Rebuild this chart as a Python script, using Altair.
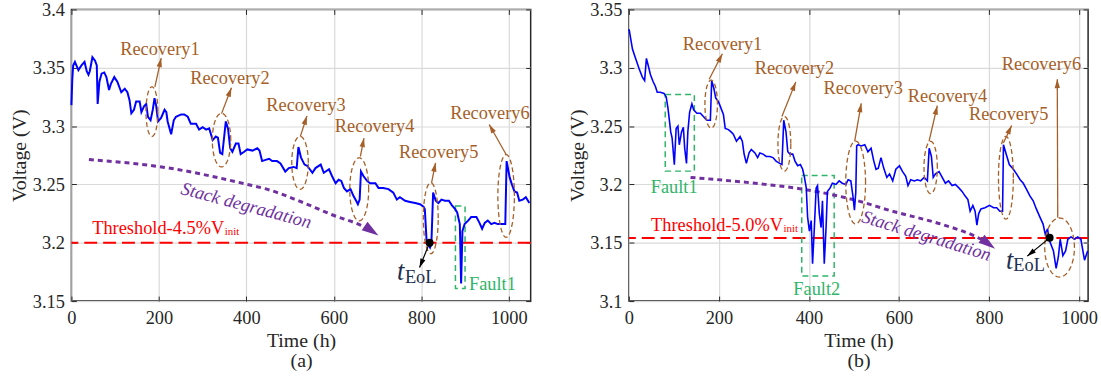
import math
import numpy as np
import pandas as pd
import altair as alt

FONT = "Liberation Serif, Times New Roman, serif"
INK = "#262626"
BLUE = "#0000FF"
RED = "#FF0000"
PURPLE = "#7030A0"
BROWN = "#A65F28"
GREEN = "#2FB56A"
NAVY = "#1F2F4F"
W, H = 463, 294

# ---------------- panel (a): stack voltage trace ----------------
A_T = [0, 2, 4, 8, 16, 23, 30, 35, 39, 42, 48, 54, 58, 60, 64, 69, 75, 80, 86, 90, 98, 105, 114, 122, 128,
       133, 137, 143, 148, 156, 160, 166, 171, 175, 181, 186, 190, 194, 198, 205, 213, 217, 220, 228, 234,
       239, 251, 258, 266, 273, 285, 292, 300, 308, 315, 323, 330, 335, 340, 345, 349, 353, 358, 363, 368,
       376, 382, 387, 395, 402, 414, 425, 430, 436, 444, 452, 459, 470, 478, 489, 497, 508, 515, 519, 525,
       533, 539, 551, 558, 570, 577, 589, 596, 604, 611, 617, 623, 630, 638, 645, 651, 655, 659, 662, 668,
       676, 683, 695, 702, 713, 725, 736, 744, 751, 763, 774, 786, 797, 805, 808, 812, 820, 823, 827, 833,
       839, 846, 854, 863, 870, 877, 882, 888, 891, 894, 899, 907, 914, 926, 933, 939, 945, 952, 960, 967,
       975, 984, 992, 995, 1002, 1007, 1013, 1019, 1024, 1032, 1039, 1047]
A_V = [3.318, 3.340, 3.352, 3.355, 3.348, 3.352, 3.355, 3.347, 3.344, 3.347, 3.359, 3.356, 3.352, 3.319,
       3.338, 3.345, 3.346, 3.342, 3.331, 3.336, 3.342, 3.338, 3.329, 3.332, 3.329, 3.322, 3.311, 3.314,
       3.321, 3.321, 3.312, 3.317, 3.319, 3.308, 3.305, 3.314, 3.324, 3.317, 3.304, 3.307, 3.314, 3.312,
       3.304, 3.293, 3.305, 3.308, 3.310, 3.310, 3.308, 3.302, 3.302, 3.297, 3.299, 3.297, 3.298, 3.288,
       3.291, 3.290, 3.277, 3.276, 3.290, 3.304, 3.298, 3.281, 3.278, 3.285, 3.285, 3.276, 3.278, 3.280,
       3.279, 3.281, 3.279, 3.270, 3.271, 3.272, 3.270, 3.270, 3.268, 3.261, 3.264, 3.265, 3.264, 3.282,
       3.273, 3.267, 3.266, 3.260, 3.264, 3.267, 3.260, 3.263, 3.257, 3.251, 3.254, 3.253, 3.247, 3.244,
       3.246, 3.240, 3.236, 3.233, 3.237, 3.261, 3.257, 3.253, 3.251, 3.251, 3.247, 3.247, 3.246, 3.243,
       3.237, 3.239, 3.236, 3.235, 3.234, 3.233, 3.231, 3.229, 3.202, 3.196, 3.199, 3.243, 3.236, 3.234,
       3.237, 3.236, 3.236, 3.232, 3.229, 3.226, 3.216, 3.165, 3.210, 3.216, 3.219, 3.222, 3.222, 3.217,
       3.212, 3.217, 3.219, 3.216, 3.217, 3.216, 3.216, 3.216, 3.270, 3.256, 3.250, 3.244, 3.243, 3.236,
       3.237, 3.239, 3.234]

# ---------------- panel (b): stack voltage trace ----------------
B_T = [0, 1, 8, 15, 23, 30, 35, 39, 43, 48, 54, 59, 63, 70, 78, 83, 87, 93, 96, 101, 105, 109, 112, 117,
       121, 124, 128, 131, 135, 140, 144, 151, 159, 166, 173, 181, 184, 189, 193, 199, 205, 210, 214, 221,
       227, 232, 239, 247, 252, 256, 261, 267, 272, 280, 286, 291, 298, 305, 313, 320, 327, 335, 340, 344,
       349, 353, 358, 364, 369, 375, 381, 386, 390, 394, 397, 401, 405, 408, 412, 416, 419, 423, 427, 430,
       434, 438, 441, 447, 452, 460, 467, 474, 482, 487, 493, 498, 501, 504, 506, 509, 516, 524, 531, 538,
       544, 549, 554, 560, 566, 573, 579, 586, 593, 601, 608, 615, 620, 626, 634, 641, 648, 656, 663, 667,
       672, 676, 681, 689, 696, 703, 710, 718, 725, 733, 740, 747, 753, 758, 764, 769, 773, 777, 782, 791,
       801, 810, 817, 824, 830, 832, 838, 845, 854, 861, 869, 876, 883, 891, 898, 905, 913, 920, 925, 930,
       933, 938, 943, 949, 954, 958, 964, 970, 975, 982, 990, 997, 1004, 1012, 1019]
B_V = [3.333, 3.332, 3.316, 3.308, 3.299, 3.292, 3.289, 3.308, 3.302, 3.294, 3.288, 3.284, 3.279, 3.279,
       3.278, 3.275, 3.265, 3.245, 3.240, 3.217, 3.248, 3.250, 3.234, 3.245, 3.249, 3.231, 3.218, 3.245,
       3.262, 3.269, 3.264, 3.261, 3.261, 3.258, 3.255, 3.255, 3.289, 3.282, 3.274, 3.271, 3.265, 3.260,
       3.248, 3.247, 3.245, 3.243, 3.237, 3.241, 3.237, 3.226, 3.218, 3.227, 3.230, 3.227, 3.223, 3.227,
       3.226, 3.224, 3.224, 3.223, 3.220, 3.218, 3.217, 3.255, 3.245, 3.228, 3.226, 3.226, 3.220, 3.216,
       3.217, 3.213, 3.206, 3.197, 3.172, 3.160, 3.169, 3.132, 3.163, 3.197, 3.199, 3.175, 3.163, 3.186,
       3.132, 3.163, 3.194, 3.197, 3.201, 3.200, 3.203, 3.201, 3.200, 3.204, 3.203, 3.189, 3.178, 3.193,
       3.233, 3.234, 3.233, 3.234, 3.228, 3.231, 3.220, 3.213, 3.214, 3.223, 3.214, 3.206, 3.209, 3.203,
       3.213, 3.216, 3.211, 3.207, 3.199, 3.204, 3.203, 3.204, 3.203, 3.206, 3.203, 3.231, 3.224, 3.206,
       3.209, 3.211, 3.206, 3.201, 3.203, 3.199, 3.200, 3.197, 3.194, 3.190, 3.187, 3.177, 3.182, 3.177,
       3.165, 3.175, 3.179, 3.180, 3.182, 3.180, 3.180, 3.177, 3.177, 3.234, 3.226, 3.217, 3.213, 3.209,
       3.204, 3.201, 3.196, 3.190, 3.186, 3.179, 3.172, 3.166, 3.157, 3.162, 3.153, 3.148, 3.143, 3.128,
       3.138, 3.153, 3.139, 3.143, 3.153, 3.155, 3.153, 3.155, 3.153, 3.135, 3.143]

X_TICKS = [0, 200, 400, 600, 800, 1000]
A_Y_TICKS = [3.15, 3.2, 3.25, 3.3, 3.35, 3.4]
B_Y_TICKS = [3.1, 3.15, 3.2, 3.25, 3.3, 3.35]

A_THRESHOLD = 3.2
B_THRESHOLD = 3.154

REC_LABELS = ["Recovery1", "Recovery2", "Recovery3", "Recovery4", "Recovery5", "Recovery6"]

# annotations panel (a)
A_REC_T = [202.3, 362.5, 536.4, 693.2, 839.8, 956.8]
A_REC_V = [3.3613, 3.3358, 3.3133, 3.2950, 3.2724, 3.3059]
A_ELL_T = [184.1, 343.2, 522.7, 658.0, 821.6, 993.9]
A_ELL_V = [3.3124, 3.2880, 3.2685, 3.2458, 3.2210, 3.2401]
A_ELL_RT = [13.6, 21.1, 18.9, 21.6, 17.0, 18.9]
A_ELL_RV = [0.0213, 0.0230, 0.0227, 0.0270, 0.0304, 0.0355]
A_ARR_T0 = [190.9, 343.2, 523.4, 660.7, 823.4, 993.9]
A_ARR_V0 = [3.3337, 3.3107, 3.2912, 3.2741, 3.2514, 3.2756]
A_ARR_T1 = [205.2, 365.9, 538.6, 668.9, 832.5, 955.2]
A_ARR_V1 = [3.3583, 3.3328, 3.3088, 3.2897, 3.2685, 3.3014]
A_FAULT = {"t0": [878], "t1": [900], "v0": [3.1608], "v1": [3.2314],
           "lt": [962.5], "lv": [3.1594], "label": ["Fault1"]}
A_TREND_T = [40, 220, 402, 448, 520, 596, 672, 684]
A_TREND_V = [3.2713, 3.2642, 3.2500, 3.2458, 3.2359, 3.2240, 3.2132, 3.2108]
A_TREND_TIP = (702, 3.2061)
A_TREND_TEXT = (400, 3.2321, 15)
# (text, t where the subscript starts, baseline V of text, baseline V of subscript)
A_THR_TEXT = ("Threshold-4.5%V", 349.3, 3.2078, 3.2065)
A_EOL = {"dot": (818.9, 3.2), "tip": (796, 3.1787), "t": (744.3, 3.1679), "e": (762.5, 3.1653)}

# annotations panel (b)
B_REC_T = [208.1, 367.8, 520.5, 707.7, 843.6, 916.3]
B_REC_V = [3.3149, 3.2945, 3.2775, 3.2707, 3.2556, 3.2984]
B_ELL_T = [182.8, 345.4, 503.7, 670.3, 837.4, 956.6]
B_ELL_V = [3.2688, 3.2348, 3.2016, 3.2145, 3.2057, 3.1459]
B_ELL_RT = [13.9, 14.3, 22.0, 14.8, 16.5, 33.0]
B_ELL_RV = [0.0206, 0.0234, 0.0355, 0.0224, 0.0355, 0.0253]
B_ARR_T0 = [178.4, 339.9, 501.5, 666.7, 831.9, 952.6]
B_ARR_V0 = [3.2902, 3.2582, 3.2369, 3.2369, 3.2355, 3.1714]
B_ARR_T1 = [207.7, 370.7, 516.1, 685.0, 850.2, 951.5]
B_ARR_V1 = [3.3120, 3.2879, 3.2695, 3.2675, 3.2505, 3.2902]
B_FAULT = {"t0": [80.8, 384], "t1": [145.4, 456], "v0": [3.2114, 3.1215], "v1": [3.2771, 3.2077],
           "lt": [100.7, 417.4], "lv": [3.1929, 3.1051], "label": ["Fault1", "Fault2"]}
B_TREND_T = [137, 287, 383, 507, 582, 692, 766, 790]
B_TREND_V = [3.2060, 3.2007, 3.1961, 3.1861, 3.1774, 3.1661, 3.1561, 3.1515]
B_TREND_TIP = (813.4, 3.1448)
B_TREND_TEXT = (661, 3.1561, 17)
B_THR_TEXT = ("Threshold-5.0%V", 342.5, 3.1604, 3.1591)
B_EOL = {"dot": (934.6, 3.1542), "tip": (884.8, 3.1385), "t": (837.7, 3.1278), "e": (854, 3.1258)}

HEAD_PATH = "M0,-1L0.6,1L-0.6,1Z"


def head(tip, frm, length, px):
    dxp = (tip[0] - frm[0]) * px[0]
    dyp = (tip[1] - frm[1]) * px[1]
    n = math.hypot(dxp, dyp)
    ang = math.degrees(math.atan2(dxp, dyp)) % 360
    ct = tip[0] - dxp / n * (length / 2) / px[0]
    cv = tip[1] - dyp / n * (length / 2) / px[1]
    return ct, cv, ang


def panel(c):
    px = (W / (c["xdom"][1] - c["xdom"][0]), H / (c["ydom"][1] - c["ydom"][0]))
    xs = alt.Scale(domain=c["xdom"], nice=False, zero=False)
    ys = alt.Scale(domain=c["ydom"], nice=False, zero=False)
    xax = alt.Axis(values=X_TICKS, format="d", title=["Time (h)", c["tag"]], offset=-5, tickSize=5,
                   tickWidth=1, domain=False, grid=True, labelPadding=8, labelFlush=False,
                   labelOverlap=False, titleY=35, titleBaseline="top", titleLineHeight=20)
    yax = alt.Axis(values=c["yticks"], format=".2~f", title="Voltage (V)", offset=-5, tickSize=5,
                   tickWidth=1, domain=False, grid=True, labelPadding=7, labelFlush=False,
                   labelOverlap=False, titleX=-47, titleBaseline="bottom")

    def X(f="t"):
        return alt.X(f"{f}:Q", scale=xs, axis=xax)

    def Y(f="v"):
        return alt.Y(f"{f}:Q", scale=ys, axis=yax)

    layers = []
    layers.append(alt.Chart(pd.DataFrame({"v": [c["thr"]]})).mark_rule(
        color=RED, strokeWidth=2, strokeDash=[13, 6]).encode(y=Y()))
    f = c["fault"]
    layers.append(alt.Chart(pd.DataFrame({k: f[k] for k in ["t0", "t1", "v0", "v1"]})).mark_rect(
        fillOpacity=0, stroke=GREEN, strokeWidth=1.5, strokeDash=[6, 4]).encode(
        x=X("t0"), x2="t1:Q", y=Y("v0"), y2="v1:Q"))
    layers.append(alt.Chart(pd.DataFrame({"t": c["trend_t"], "v": c["trend_v"]})).mark_line(
        color=PURPLE, strokeWidth=3, strokeDash=[5, 4], interpolate="monotone").encode(x=X(), y=Y()))
    layers.append(alt.Chart(pd.DataFrame({"t": c["T"], "v": c["V"]})).mark_line(
        color=BLUE, strokeWidth=c["lw"]).encode(x=X(), y=Y()))
    rows = []
    for i, (ct, cv, rt, rv) in enumerate(zip(c["ell_t"], c["ell_v"], c["ell_rt"], c["ell_rv"])):
        for k, th in enumerate(np.linspace(0, 2 * np.pi, 73)):
            rows.append({"id": i, "k": k, "t": ct + rt * np.cos(th), "v": cv + rv * np.sin(th)})
    layers.append(alt.Chart(pd.DataFrame(rows)).mark_line(
        color=BROWN, strokeWidth=1.3, strokeDash=[5, 3]).encode(
        x=X(), y=Y(), detail="id:N", order="k:Q"))
    layers.append(alt.Chart(pd.DataFrame({"t": c["arr_t0"], "v": c["arr_v0"],
                                          "t1": c["arr_t1"], "v1": c["arr_v1"]})).mark_rule(
        color=BROWN, strokeWidth=1.3).encode(x=X(), y=Y(), x2="t1:Q", y2="v1:Q"))
    hs = [head((t1, v1), (t0, v0), 9, px) for t0, v0, t1, v1 in
          zip(c["arr_t0"], c["arr_v0"], c["arr_t1"], c["arr_v1"])]
    layers.append(alt.Chart(pd.DataFrame({"t": [h[0] for h in hs], "v": [h[1] for h in hs],
                                          "a": [h[2] for h in hs]})).mark_point(
        shape=HEAD_PATH, filled=True, color=BROWN, size=81, opacity=1, strokeWidth=0).encode(
        x=X(), y=Y(), angle=alt.Angle("a:Q", scale=None)))
    ph = head(c["trend_tip"], (c["trend_t"][-1], c["trend_v"][-1]), 17, px)
    layers.append(alt.Chart(pd.DataFrame({"t": [ph[0]], "v": [ph[1]], "a": [ph[2]]})).mark_point(
        shape=HEAD_PATH, filled=True, color=PURPLE, size=289, opacity=1, strokeWidth=0).encode(
        x=X(), y=Y(), angle=alt.Angle("a:Q", scale=None)))
    e = c["eol"]
    layers.append(alt.Chart(pd.DataFrame({"t": [e["dot"][0]], "v": [e["dot"][1]],
                                          "t1": [e["tip"][0]], "v1": [e["tip"][1]]})).mark_rule(
        color="black", strokeWidth=1.2).encode(x=X(), y=Y(), x2="t1:Q", y2="v1:Q"))
    eh = head(e["tip"], e["dot"], 9, px)
    layers.append(alt.Chart(pd.DataFrame({"t": [eh[0]], "v": [eh[1]], "a": [eh[2]]})).mark_point(
        shape=HEAD_PATH, filled=True, color="black", size=81, opacity=1, strokeWidth=0).encode(
        x=X(), y=Y(), angle=alt.Angle("a:Q", scale=None)))
    layers.append(alt.Chart(pd.DataFrame({"t": [e["dot"][0]], "v": [e["dot"][1]]})).mark_circle(
        color="black", size=64, opacity=1).encode(x=X(), y=Y()))
    layers.append(alt.Chart(pd.DataFrame({"t": c["rec_t"], "v": c["rec_v"], "s": REC_LABELS})).mark_text(
        font=FONT, fontSize=18.5, color=BROWN, align="center", baseline="alphabetic").encode(
        x=X(), y=Y(), text="s:N"))
    layers.append(alt.Chart(pd.DataFrame({"t": f["lt"], "v": f["lv"], "s": f["label"]})).mark_text(
        font=FONT, fontSize=18.5, color=GREEN, align="center", baseline="alphabetic").encode(
        x=X(), y=Y(), text="s:N"))
    th = c["thr_text"]
    layers.append(alt.Chart(pd.DataFrame({"t": [th[1]], "v": [th[2]], "s": [th[0]]})).mark_text(
        font=FONT, fontSize=18.5, color=RED, align="right", baseline="alphabetic").encode(
        x=X(), y=Y(), text="s:N"))
    layers.append(alt.Chart(pd.DataFrame({"t": [th[1]], "v": [th[3]], "s": ["init"]})).mark_text(
        font=FONT, fontSize=11, color=RED, align="left", baseline="alphabetic", dx=0.5).encode(
        x=X(), y=Y(), text="s:N"))
    tt = c["trend_text"]
    layers.append(alt.Chart(pd.DataFrame({"t": [tt[0]], "v": [tt[1]], "s": ["Stack degradation"]})).mark_text(
        font=FONT, fontSize=18.5, fontStyle="italic", color=PURPLE, align="center", baseline="middle",
        angle=tt[2]).encode(x=X(), y=Y(), text="s:N"))
    layers.append(alt.Chart(pd.DataFrame({"t": [e["t"][0]], "v": [e["t"][1]], "s": ["t"]})).mark_text(
        font=FONT, fontSize=26.5, fontStyle="italic", color=NAVY, align="left", baseline="alphabetic").encode(
        x=X(), y=Y(), text="s:N"))
    layers.append(alt.Chart(pd.DataFrame({"t": [e["e"][0]], "v": [e["e"][1]], "s": ["EoL"]})).mark_text(
        font=FONT, fontSize=18.5, color=NAVY, align="left", baseline="alphabetic").encode(
        x=X(), y=Y(), text="s:N"))

    inner = alt.layer(*layers)
    ticks = alt.Chart(pd.DataFrame({"t": [c["xdom"][0]], "v": [c["ydom"][0]]})).mark_point(opacity=0).encode(
        x=alt.X("t:Q", scale=xs, axis=alt.Axis(orient="top", values=X_TICKS, labels=False, title=None,
                                                offset=-5, tickSize=5, tickWidth=1, domain=False, grid=False)),
        y=alt.Y("v:Q", scale=ys, axis=alt.Axis(orient="right", values=c["yticks"], labels=False, title=None,
                                                offset=-5, tickSize=5, tickWidth=1, domain=False, grid=False)))
    return alt.layer(inner, ticks).resolve_axis(x="independent", y="independent").properties(width=W, height=H)


cfg_a = dict(xdom=[0, 1050], ydom=[3.15, 3.4], yticks=A_Y_TICKS, tag="(a)", T=A_T, V=A_V, lw=2,
             thr=A_THRESHOLD, fault=A_FAULT, trend_t=A_TREND_T, trend_v=A_TREND_V, trend_tip=A_TREND_TIP,
             trend_text=A_TREND_TEXT, ell_t=A_ELL_T, ell_v=A_ELL_V, ell_rt=A_ELL_RT, ell_rv=A_ELL_RV,
             arr_t0=A_ARR_T0, arr_v0=A_ARR_V0, arr_t1=A_ARR_T1, arr_v1=A_ARR_V1, rec_t=A_REC_T,
             rec_v=A_REC_V, thr_text=A_THR_TEXT, eol=A_EOL)
cfg_b = dict(xdom=[0, 1020], ydom=[3.1, 3.35], yticks=B_Y_TICKS, tag="(b)", T=B_T, V=B_V, lw=1.6,
             thr=B_THRESHOLD, fault=B_FAULT, trend_t=B_TREND_T, trend_v=B_TREND_V, trend_tip=B_TREND_TIP,
             trend_text=B_TREND_TEXT, ell_t=B_ELL_T, ell_v=B_ELL_V, ell_rt=B_ELL_RT, ell_rv=B_ELL_RV,
             arr_t0=B_ARR_T0, arr_v0=B_ARR_V0, arr_t1=B_ARR_T1, arr_v1=B_ARR_V1, rec_t=B_REC_T,
             rec_v=B_REC_V, thr_text=B_THR_TEXT, eol=B_EOL)

chart = alt.hconcat(panel(cfg_a), panel(cfg_b), spacing=32).configure_view(
    stroke=INK, strokeWidth=1.5
).configure_axis(
    labelFont=FONT, titleFont=FONT, labelFontSize=18.5, titleFontSize=20, labelColor=INK,
    titleColor=INK, tickColor=INK, gridColor="#DADADA", gridWidth=1.2, titleFontWeight="normal"
).properties(
    padding={"left": 9, "top": -2, "right": 2, "bottom": 0}, background="white"
)

chart.save("out.html", embed_options={"renderer": "svg", "actions": False})
